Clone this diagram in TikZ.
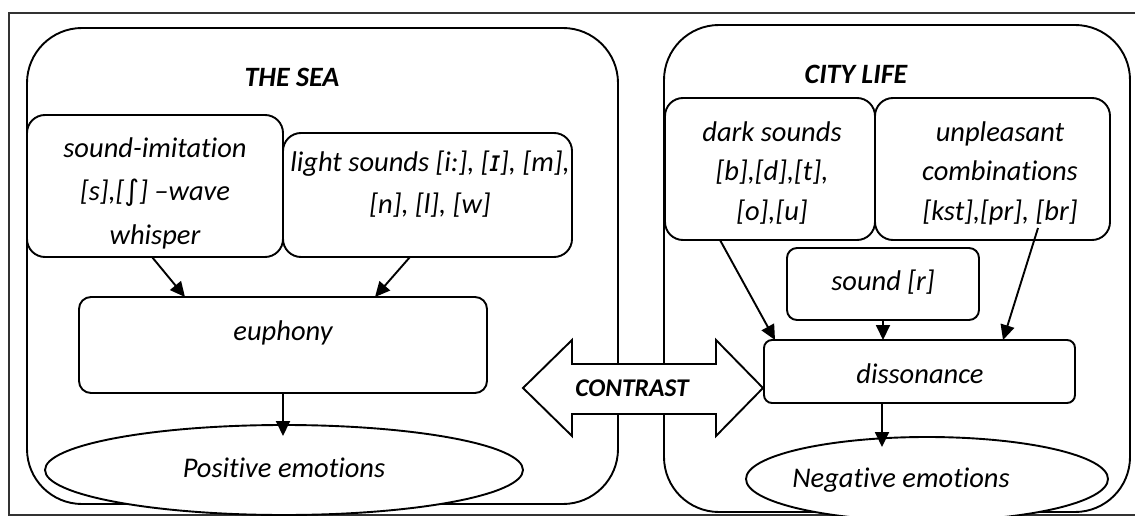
\documentclass[tikz,border=0pt]{standalone}
\usepackage{fontspec}
\setmainfont{Carlito}[Ligatures=NoCommon]
\newfontfamily\ipafont{DejaVu Sans}
\usetikzlibrary{arrows.meta,shapes.geometric,calc}
\tikzset{
  rbox/.style={draw, line width=1.9pt, rounded corners=#1, inner sep=0pt, outer sep=0pt, fill=white},
  rbox/.default=18pt,
  oval/.style={draw, ellipse, line width=1.9pt, inner sep=0pt, outer sep=0pt, fill=white},
  txt/.style={font=\fontsize{28.5}{43}\selectfont\itshape, align=center, inner sep=0pt},
  ttl/.style={font=\fontsize{28}{32}\selectfont\bfseries\itshape, inner sep=0pt},
  arr/.style={line width=1.9pt, -{Triangle[length=15pt,width=14pt]}},
  frame/.style={draw, line width=1.2pt, black!80},
}
\begin{document}
\begin{tikzpicture}[x=1pt,y=-1pt]
\useasboundingbox (0,0) rectangle (1135,516);
\draw[frame] (9,13) rectangle (1160,515);
% containers
\node[rbox=55pt, fill=none, minimum width=591pt, minimum height=476pt] (sea) at (322.5,266) {};
\node[rbox=55pt, fill=none, minimum width=466pt, minimum height=487pt] (city) at (897,268.5) {};
\node[ttl] (seat) at (292,77) {THE SEA};
\node[ttl] (cityt) at (856,74) {CITY LIFE};
% ellipses
\node[oval, minimum width=478pt, minimum height=90pt] (pos) at (284,470) {};
\node[txt] (post) at (284,468) {Positive emotions};
\node[oval, minimum width=362pt, minimum height=84pt] (neg) at (927,479) {};
\node[txt] (negt) at (901,480) {Negative emotions};
% left boxes
\node[rbox, minimum width=256pt, minimum height=142pt] (s1) at (155,186) {};
\node[txt, font=\fontsize{28.5}{43.5}\selectfont\itshape] (s1t) at (155,193) {sound-imitation\\ {[s],[{\ipafont\itshape ∫}]} –wave\\ whisper};
\node[rbox, minimum width=289pt, minimum height=124pt] (l1) at (427.5,195) {};
\node[txt, font=\fontsize{28.5}{42}\selectfont\itshape] (l1t) at (430,184) {light sounds [i:], [{\ipafont\itshape ɪ}], [m],\\ {[n], [l], [w]}};
\node[rbox=12pt, minimum width=408pt, minimum height=96pt] (eu) at (283,345) {};
\node[txt] (eut) at (283,333) {euphony};
% right boxes
\node[rbox, minimum width=210pt, minimum height=142pt] (d1) at (770,169) {};
\node[txt, font=\fontsize{28.5}{39.5}\selectfont\itshape] (d1t) at (772,173) {dark sounds\\ {[b],[d],[t],}\\ {[o],[u]}};
\node[rbox, minimum width=235pt, minimum height=142pt] (u1) at (992.5,169) {};
\node[txt, font=\fontsize{28.5}{39.5}\selectfont\itshape] (u1t) at (1000,173) {unpleasant\\ combinations\\ {[kst],[pr], [br]}};
\node[rbox=10pt, minimum width=192pt, minimum height=72pt] (r1) at (883,284) {};
\node[txt] (r1t) at (883,282) {sound [r]};
\node[rbox=8pt, minimum width=311pt, minimum height=63pt] (dis) at (919.5,371.5) {};
\node[txt] (dist) at (920,374) {dissonance};
% arrows
\draw[arr] ([xshift=-3pt]s1.south) -- ([xshift=-98pt]eu.north);
\draw[arr] ([xshift=-17.5pt]l1.south) -- ([xshift=92pt]eu.north);
\coordinate (postop) at (283,436);
\draw[arr] (eu.south) -- (postop);
\draw[arr] ([xshift=-50pt]d1.south) -- ([xshift=-144.5pt]dis.north);
\draw[arr] (r1.south) -- (r1.south |- dis.north);
\draw[arr] ([xshift=45.5pt,yshift=12pt]u1.south) -- ([xshift=83.5pt]dis.north);
\coordinate (negtop) at (882,447);
\draw[arr] (dis.south -| negtop) -- (negtop);
% contrast arrow
\draw[line width=1.9pt, fill=white, line join=miter] (523,388) -- (572,340) -- (572,364) -- (716,364) -- (716,340) -- (763,388) -- (716,436) -- (716,414) -- (572,414) -- (572,436) -- cycle;
\node[ttl, font=\fontsize{25.5}{28}\selectfont\bfseries\itshape] (ct) at (632,388) {CONTRAST};
\end{tikzpicture}
\end{document}
